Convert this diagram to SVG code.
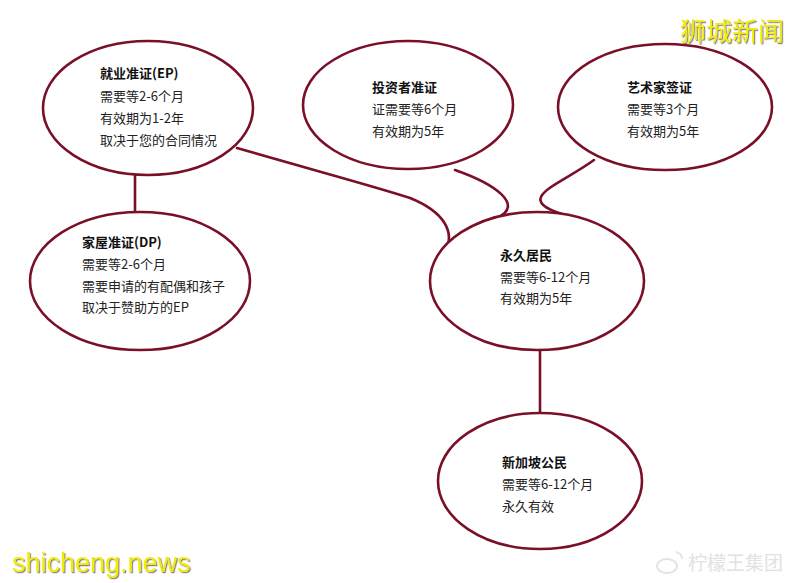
<svg xmlns="http://www.w3.org/2000/svg" width="800" height="583" viewBox="0 0 800 583">
<defs>
<style>
.node ellipse{fill:#fff;stroke:#7a1028;stroke-width:2.6}
.conn path,.conn line{fill:none;stroke:#7a1028;stroke-width:2.6;stroke-linecap:round}
text{font-family:"Microsoft YaHei","Noto Sans CJK SC","Liberation Sans",sans-serif;font-size:13px;fill:#222}
.t{font-weight:bold;fill:#111}
.wm{fill:#f4ec00;filter:url(#sh)}
.wm1{font-family:"Noto Sans CJK SC",sans-serif;font-size:26px}
.wm2{font-family:"Liberation Sans",sans-serif;font-size:27px}
.wb{font-family:"Noto Sans CJK SC",sans-serif;font-size:19px;fill:#e2e2e2}
</style>
<filter id="sh" x="-10%" y="-20%" width="130%" height="150%">
<feDropShadow dx="1.2" dy="1.2" stdDeviation="0.6" flood-color="#777" flood-opacity="0.9"/>
</filter>
</defs>
<rect width="800" height="583" fill="#fff"/>
<g class="conn" id="connectors">
<line x1="135" y1="174" x2="135" y2="213"/>
<path d="M237,148 C320,172 380,188 410,198 C440,210 462,232 440,260"/>
<path d="M455,170 C495,184 525,205 497,218"/>
<path d="M594,160 C560,185 512,198 562,214"/>
<line x1="540" y1="349" x2="540" y2="414"/>
</g>
<g class="node" id="ep">
<ellipse cx="148" cy="108" rx="105" ry="67"/>
<text class="t" x="100" y="78">就业准证(EP)</text>
<text x="100" y="101">需要等2-6个月</text>
<text x="100" y="123">有效期为1-2年</text>
<text x="100" y="145">取决于您的合同情况</text>
</g>
<g class="node" id="investor">
<ellipse cx="408" cy="105" rx="105" ry="64"/>
<text class="t" x="372" y="92">投资者准证</text>
<text x="372" y="114">证需要等6个月</text>
<text x="372" y="136">有效期为5年</text>
</g>
<g class="node" id="artist">
<ellipse cx="665" cy="107" rx="107" ry="63"/>
<text class="t" x="627" y="92">艺术家签证</text>
<text x="627" y="114">需要等3个月</text>
<text x="627" y="136">有效期为5年</text>
</g>
<g class="node" id="dp">
<ellipse cx="140" cy="281" rx="110" ry="69"/>
<text class="t" x="82" y="247">家屋准证(DP)</text>
<text x="82" y="269">需要等2-6个月</text>
<text x="82" y="291">需要申请的有配偶和孩子</text>
<text x="82" y="312">取决于赞助方的EP</text>
</g>
<g class="node" id="pr">
<ellipse cx="537" cy="281" rx="107" ry="69"/>
<text class="t" x="500" y="260">永久居民</text>
<text x="500" y="282">需要等6-12个月</text>
<text x="500" y="303">有效期为5年</text>
</g>
<g class="node" id="citizen">
<ellipse cx="540" cy="481" rx="102" ry="68"/>
<text class="t" x="502" y="467">新加坡公民</text>
<text x="502" y="489">需要等6-12个月</text>
<text x="502" y="511">永久有效</text>
</g>
<text class="wm wm1" x="680" y="41">狮城新闻</text>
<text class="wm wm2" x="12" y="572">shicheng.news</text>
<g fill="none" stroke="#e4e4e4" stroke-width="2">
<ellipse cx="667" cy="566" rx="10" ry="7"/>
<path d="M676,552 a7,7 0 0 1 6,7"/>
</g>
<text class="wb" x="688" y="570">柠檬王集团</text>
</svg>
